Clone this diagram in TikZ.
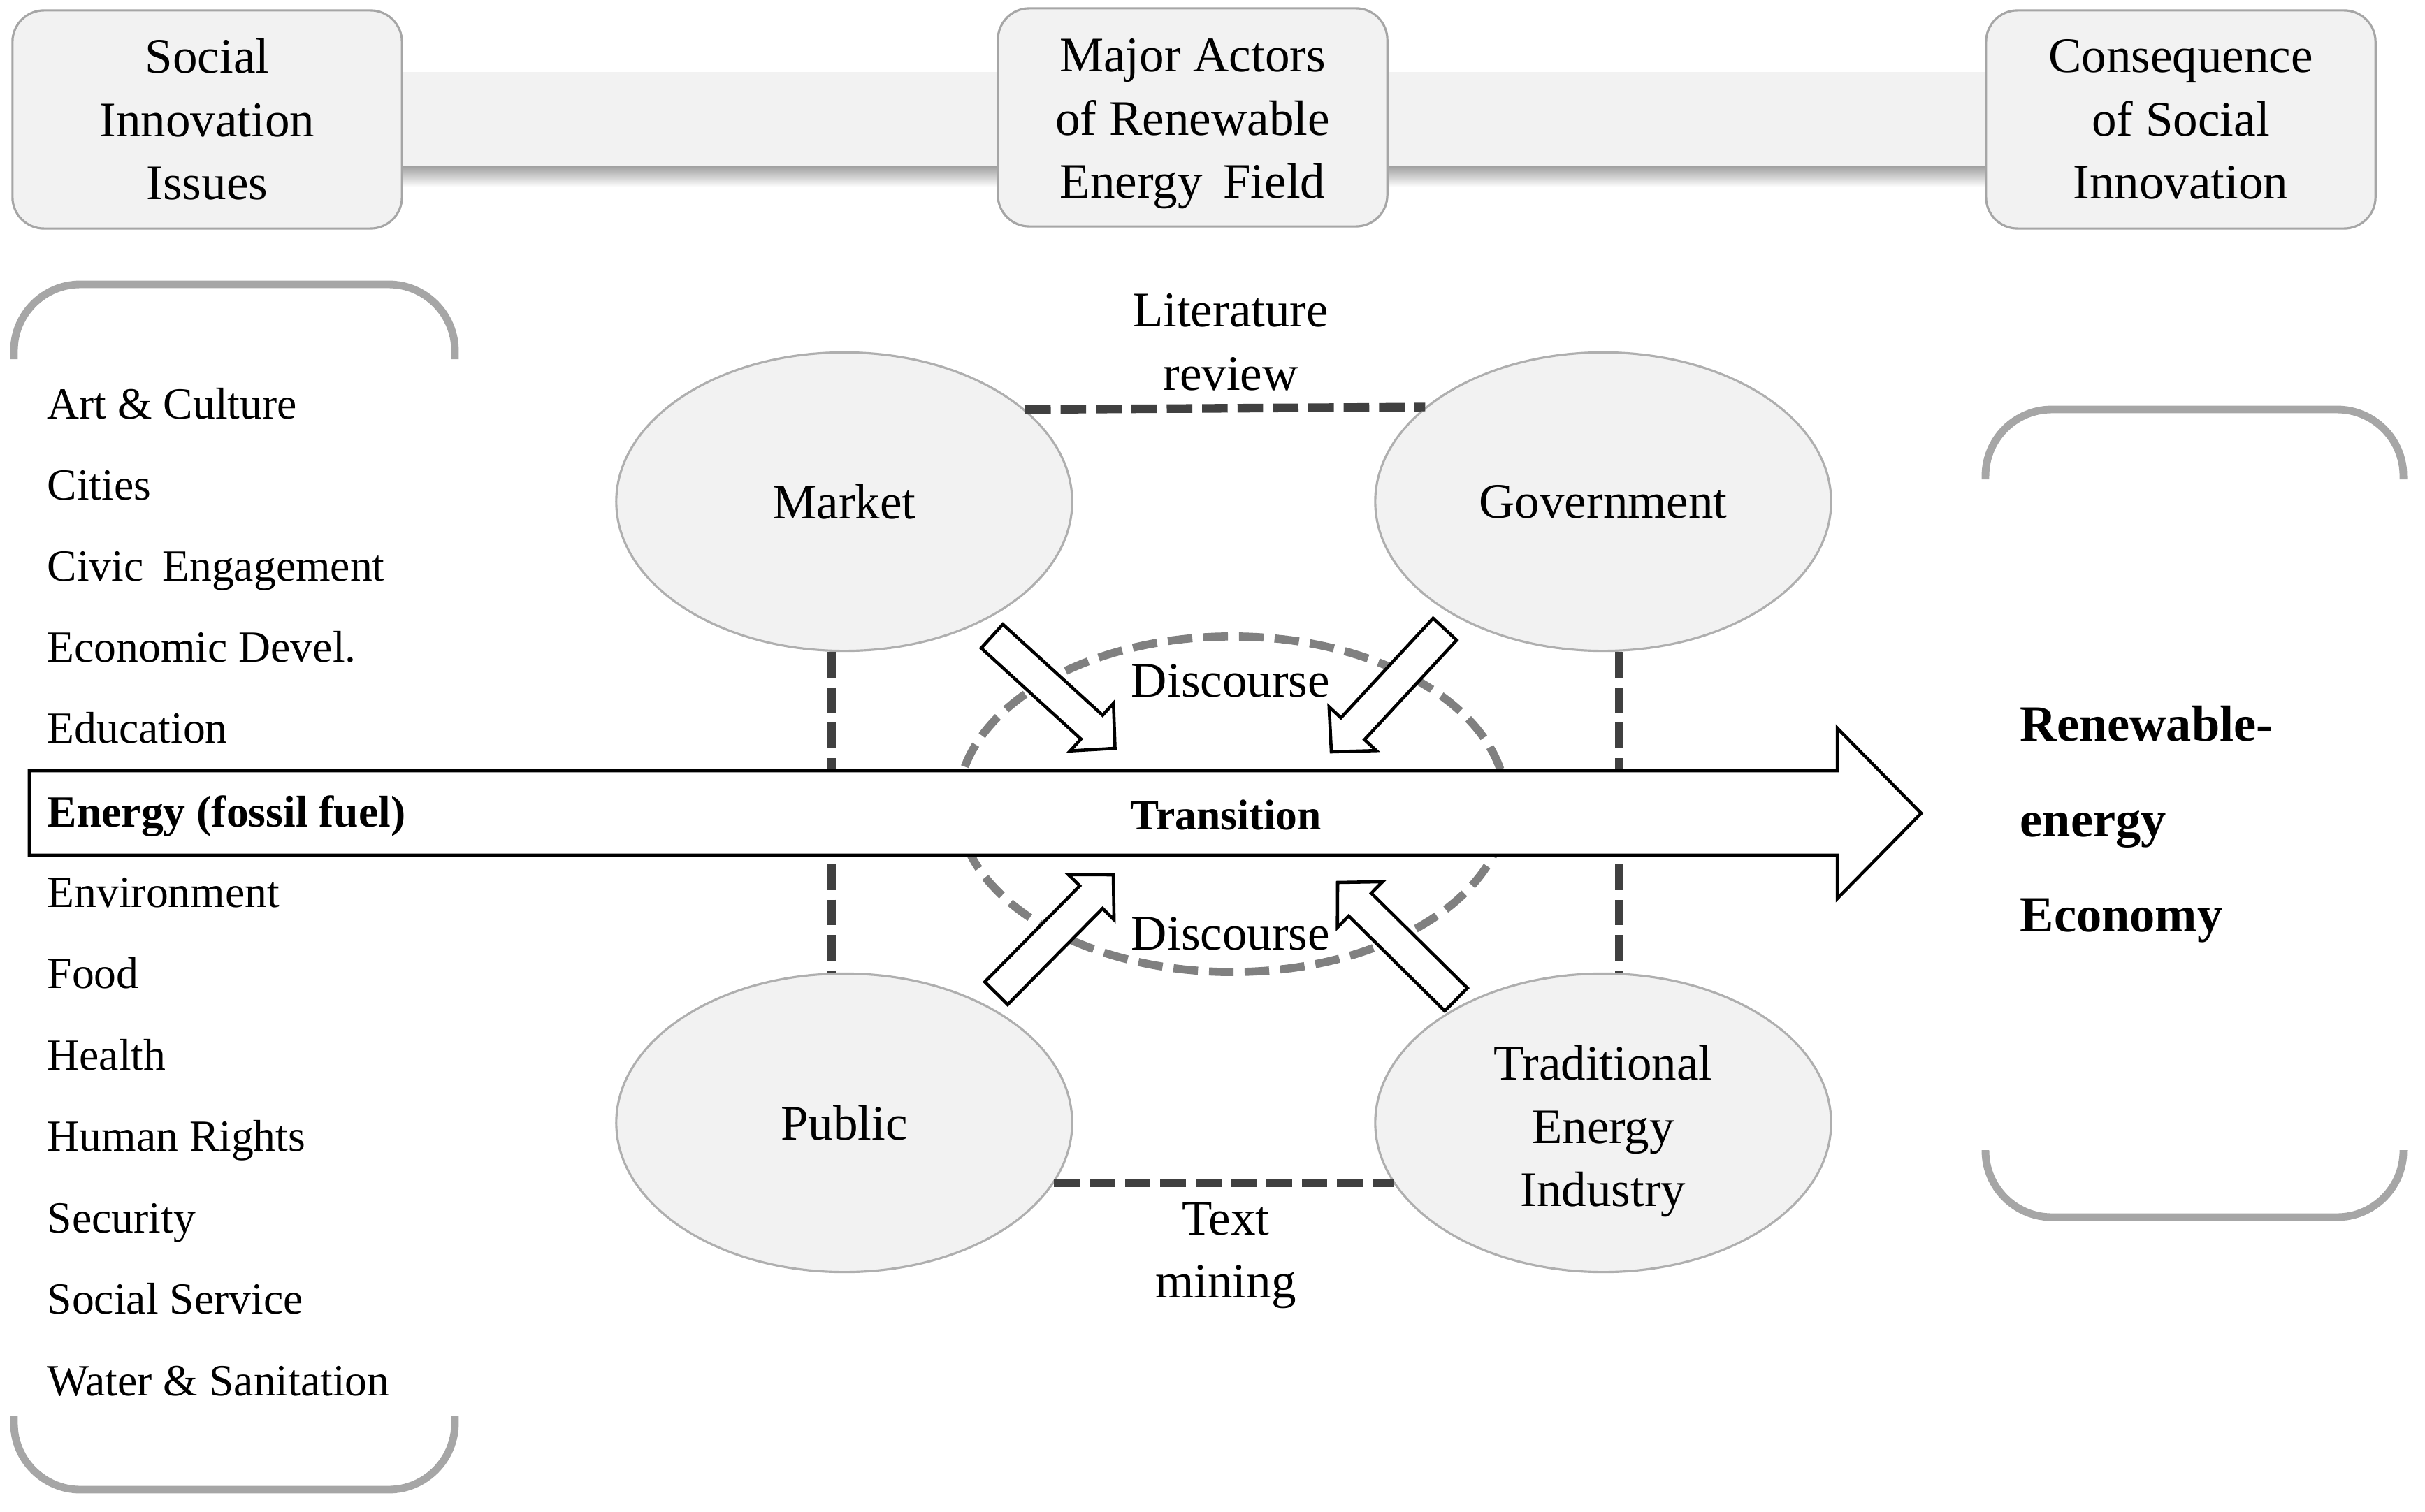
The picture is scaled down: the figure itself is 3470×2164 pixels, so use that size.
\documentclass[tikz,border=0pt]{standalone}
\usepackage{fontspec}
\setmainfont{Liberation Serif}
\usetikzlibrary{shapes.geometric,calc}
\definecolor{fillgray}{HTML}{F2F2F2}
\definecolor{boxgray}{HTML}{A6A6A6}
\definecolor{ellgray}{HTML}{AFAFAF}
\definecolor{brgray}{HTML}{A6A6A6}
\definecolor{dashdark}{HTML}{404040}
\definecolor{dashgray}{HTML}{808080}
\newcommand{\hollowarrow}[2]{%
  \coordinate (hb) at ($(#2)!0.45cm!(#1)$);
  \draw[blockarrow] ($(#1)!0.23cm!90:(#2)$) -- ($(hb)!0.23cm!-90:(#1)$) -- ($(hb)!0.46cm!-90:(#1)$) -- (#2) -- ($(hb)!0.46cm!90:(#1)$) -- ($(hb)!0.23cm!90:(#1)$) -- ($(#1)!0.23cm!-90:(#2)$) -- cycle;}
\begin{document}
\begin{tikzpicture}[x=0.01cm,y=-0.01cm,
  bigfont/.style={font=\fontsize{20.2}{25.75}\selectfont},
  topbox/.style={draw=boxgray, line width=0.9pt, fill=fillgray, rounded corners=0.45cm,
     minimum width=5.57cm, minimum height=3.12cm, align=center, inner sep=0pt, bigfont},
  actor/.style={ellipse, draw=ellgray, line width=0.9pt, fill=fillgray, minimum width=6.52cm,
     minimum height=4.27cm, inner sep=0pt, align=center, bigfont},
  bracket/.style={draw=brgray, line width=3.1pt, rounded corners=0.95cm},
  darkdash/.style={draw=dashdark, line width=3.5pt, dash pattern=on 10.4pt off 4pt},
  graydash/.style={draw=dashgray, line width=3.3pt, dash pattern=on 10pt off 4.5pt},
  blockarrow/.style={draw=black, line width=1.3pt, fill=white, line join=miter},
  item/.style={anchor=base west, inner sep=0pt, font=\fontsize{18.1}{22}\selectfont},
  label/.style={inner sep=0pt, align=center, bigfont}
]
\useasboundingbox (0,0) rectangle (3470,2164);

% connecting band with shadow
\shade[top color=black!38, bottom color=white] (575,237) rectangle (2841,268);
\fill[fillgray] (575,103) rectangle (2841,237);

% header boxes
\node[topbox] (h1) at (296.5,171) {Social\\Innovation\\Issues};
\node[topbox] (h2) at (1706.5,168) {\rule{0pt}{0.66cm}Major Actors\\of Renewable\\Energy\hspace{0.42em}Field};
\node[topbox] (h3) at (3120.5,171) {Consequence\\of Social\\Innovation};

% brackets
\draw[bracket] (20,514) -- (20,407) -- (651,407) -- (651,514);
\draw[bracket] (20,2027) -- (20,2132) -- (651,2132) -- (651,2027);
\draw[bracket] (2841,686) -- (2841,586) -- (3439,586) -- (3439,686);
\draw[bracket] (2841,1646) -- (2841,1742) -- (3439,1742) -- (3439,1646);

% list of issues
\node[item] (i1) at (67,599) {Art \& Culture};
\node[item] (i2) at (67,715) {Cities};
\node[item] (i3) at (67,831) {Civic\hspace{0.42em}Engagement};
\node[item] (i4) at (67,947) {Economic Devel.};
\node[item] (i5) at (67,1063) {Education};
\node[item] (i7) at (67,1298) {Environment};
\node[item] (i8) at (67,1414.5) {Food};
\node[item] (i9) at (67,1531) {Health};
\node[item] (i10) at (67,1647.5) {Human Rights};
\node[item] (i11) at (67,1764) {Security};
\node[item] (i12) at (67,1880.5) {Social Service};
\node[item] (i13) at (67,1997) {Water \& Sanitation};

% discourse area (dashed ellipse)
\node[ellipse, graydash, minimum width=7.84cm, minimum height=4.80cm, inner sep=0pt] (disc) at (1763,1151) {};

% actors
\node[actor] (market) at (1208,718) {Market};
\node[actor] (gov) at (2294,718) {Government};
\node[actor] (public) at (1208,1607) {Public};
\node[actor] (trad) at (2294,1607) {\rule{0pt}{0.74cm}Traditional\\Energy\\Industry};

% dashed relations
\draw[darkdash] (market.27.55) -- (gov.152.45);
\draw[darkdash] (public.-16.07) -- (trad.196.07);
\draw[darkdash] ([xshift=-0.18cm]market.south) -- ([xshift=-0.18cm]public.north);
\draw[darkdash] ([xshift=0.23cm]gov.south) -- ([xshift=0.23cm]trad.north);

% transition arrow
\draw[blockarrow] (42,1103) -- (2629,1103) -- (2629,1042) -- (2749,1164) -- (2629,1286) -- (2629,1224) -- (42,1224) -- cycle;
\node[anchor=base, inner sep=0pt, font=\fontsize{17.5}{21}\selectfont\bfseries] (trans) at (1754,1187) {Transition};
\node[item, font=\fontsize{18.1}{22}\selectfont\bfseries] (i6) at (67,1183) {Energy (fossil fuel)};

% discourse arrows
\coordinate (a1t) at (1419.5,910.5);  \coordinate (a1h) at (1595.5,1071);
\coordinate (a2t) at (2067.5,900.5);  \coordinate (a2h) at (1905,1076);
\coordinate (a3t) at (1425.5,1421.5); \coordinate (a3h) at (1593,1252);
\coordinate (a4t) at (2083.5,1430.5); \coordinate (a4h) at (1914,1263);
\hollowarrow{a1t}{a1h}
\hollowarrow{a2t}{a2h}
\hollowarrow{a3t}{a3h}
\hollowarrow{a4t}{a4h}

% labels
\node[anchor=base, inner sep=0pt, bigfont] (d1) at (1761,997) {Discourse};
\node[anchor=base, inner sep=0pt, bigfont] (d2) at (1761,1359) {Discourse};
\node[label] (lit) at (1761,490) {Literature\\review};
\node[label] (tm) at (1754,1797) {Text\\mining};

% outcome
\node[anchor=north west, inner sep=0pt, align=left, font=\fontsize{20.6}{38.7}\selectfont\bfseries] (out) at (2890,1010) {Renewable-\\energy\\Economy};
\end{tikzpicture}
\end{document}
